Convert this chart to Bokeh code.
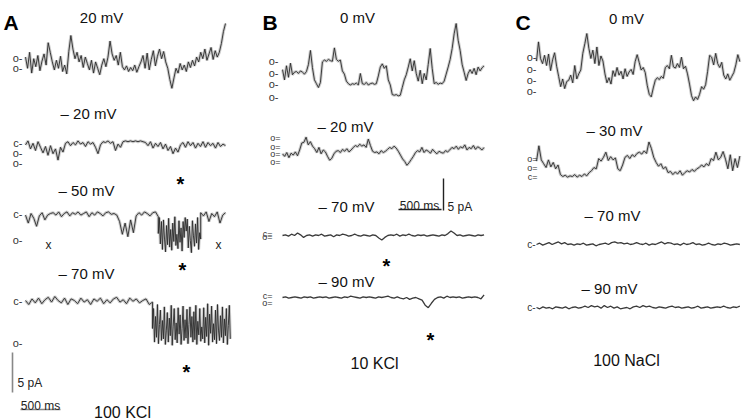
import numpy as np
from bokeh.plotting import figure
from bokeh.models import Range1d
from bokeh.core.properties import value
from bokeh.embed import file_html
from bokeh.resources import INLINE

# ---------------- data (current in pA) ----------------
a_p20 = [0.8, -0.6, 1.4, -1.2, 0.6, -0.4, 1.0, -0.9, 0.3, 1.2, -0.2, 2.6, 1.4,
         0.2, -0.8, 0.4, -0.6, 0.9, -1.0, -0.2, -1.3, 1.5, 3.5, 1.8, 0.6, 1.4, 0.2,
         1.0, -0.5, 0.8, 0.0, -0.8, 0.4, -1.2, 0.2, -0.6, -1.4, -0.2, 0.6, -0.4, 0.8,
         2.8, 1.2, 0.4, 1.0, -0.2, 1.4, -0.4, -0.8, -0.3, -1.0, -0.5, -0.9, -0.2, -1.1,
         -0.4, 0.2, 1.0, -0.6, 1.3, -0.8, 0.5, 1.6, -0.3, 0.9, 1.8, 0.6, 1.5, 0.2, -0.6,
         -2.0, -3.1, -1.8, -0.6, -1.2, 0.0, -0.8, -0.2, -1.0, 0.2, -0.5, 0.4, -0.3,
         0.8, 0.2, 1.4, 0.6, 1.8, 0.4, 1.2, 2.0, 0.5, 1.6, 0.8, 1.4, 2.5, 4.0, 5.0]
a_m20 = [-0.3, 0.2, -0.8, -0.1, -1.0, 0.1, -0.6, -1.3, -0.5, -1.6, -0.4, -1.4, -0.8,
         -2.2, -0.6, -1.2, -0.1, 0.1, -0.4, 0.0, -0.3, 0.2, -0.2, 0.0, -0.5, 0.1, -0.2,
         0.0, -0.6, -1.4, -0.3, 0.1, 0.0, 0.2, -0.1, 0.1, -1.0, -0.2, -0.6, 0.1, 0.2,
         0.1, 0.2, 0.1, 0.2, 0.1, 0.2, 0.1, 0.0, -0.4, 0.1, -0.7, -0.1, -0.5, 0.0, -0.8,
         -0.2, -1.0, -0.5, -1.4, -0.7, -1.2, -0.3, 0.0, -0.6, 0.1, -0.4, 0.0, -0.7, -0.1,
         -0.5, 0.1, -0.6, 0.0, -0.4, -0.1, -0.7, 0.0, -0.5, -0.2, -0.4]
# -50 mV: before the burst, the burst, after the burst
a_m50_pre = [-0.2, -1.2, 0.0, -0.6, -1.6, -0.3, 0.1, -0.8, -0.2, 0.0, 0.1, -0.2, 0.2,
             -0.4, 0.0, 0.2, -0.3, 0.1, -0.1, 0.2, -0.2, 0.0, 0.2, -0.4, 0.1, -0.2, 0.2,
             0.0, -0.3, 0.1, 0.2, -0.1, 0.0, -0.2, -1.0, -2.6, -1.2, -2.9, -0.8, -2.4,
             -0.3, 0.1, -0.2, 0.2, 0.0, -0.3, 0.1, 0.2, -0.4]
a_m50_burst = [-2.5, -0.5, -3.8, -1.0, -4.5, -0.8, -3.2, -4.8, -1.5, -3.9, -0.6, -4.2,
               -2.0, -4.6, -1.2, -3.5, -0.4, -4.0, -2.6, -4.4, -0.9, -3.6, -1.8, -4.7,
               -1.0, -3.0, -0.5, -2.2, -0.7, -4.3, -1.6, -3.4, -4.9, -0.9, -2.8, -4.1,
               -1.3, -3.7, -0.5, -4.5, -2.4, -3.2]
a_m50_post = [0.1, -0.3, 0.2, -1.0, 0.0, -0.4, 0.2, -1.2, -0.2, 0.1]
a_m50_times = [0, 1660, 2190, 2500]
# -70 mV: closed stretch, then flickering burst
a_m70_closed = [0.0, -0.5, 0.2, -0.3, 0.3, -0.4, 0.1, 0.4, -0.2, 0.5, 0.0, -0.3, 0.3,
                -0.5, 0.2, 0.0, -0.4, 0.3, -0.2, 0.1, -0.5, 0.2, -0.1, 0.3, -0.4, 0.1,
                -0.3, 0.2, 0.4, -0.2, 0.1, -0.4, 0.3, -0.1, 0.2, -0.3, 0.0, 0.2, -0.5,
                -0.2]
a_m70_burst = [-3.5, -1.0, -5.2, -2.0, -4.6, -0.5, -5.4, -3.0, -1.2, -5.0, -2.5, -4.8,
               -0.8, -5.5, -3.8, -1.5, -5.2, -2.2, -4.4, -0.6, -5.6, -3.2, -1.0, -4.9,
               -2.8, -5.3, -0.9, -4.2, -1.8, -5.5, -3.5, -0.7, -5.0, -2.4, -4.7, -1.1,
               -5.4, -3.0, -0.8, -4.6, -2.0, -5.2, -1.4, -4.9, -0.6, -5.5, -2.6, -4.3,
               -1.0, -5.1, -3.3, -4.8, -0.9, -5.3, -2.1, -4.5, -0.4, -5.6, -1.7, -4.1,
               -0.7, -5.2, -2.9, -4.9, -1.2, -5.4, -0.5, -3.7, -5.0, -1.9, -4.6, -0.8,
               -5.3, -2.3, -4.4, -1.0, -5.5, -3.1, -0.6, -4.8]
a_m70_times = [0, 1588, 2560]
b_0 = [4.2, 2.6, 4.8, 3.0, 5.2, 3.4, 3.8, 3.9, 3.6, 4.0, 3.8, 3.5, 3.9, 5.0, 7.2, 4.5,
       2.6, 2.0, 1.4, 2.2, 5.4, 5.7, 5.5, 5.8, 5.6, 5.5, 7.6, 5.8, 5.5, 5.7, 4.0, 3.5,
       2.4, 2.0, 1.8, 2.0, 1.9, 2.1, 1.8, 3.6, 2.0, 1.9, 2.2, 1.8, 2.0, 2.1, 1.9, 2.0,
       3.2, 4.6, 5.1, 4.4, 4.8, 2.6, 1.8, 0.3, 0.2, 0.3, 0.1, 0.2, 1.4, 2.6, 3.4, 4.6,
       5.9, 4.0, 5.6, 3.6, 2.4, 4.1, 2.0, 3.6, 2.6, 5.0, 7.5, 4.4, 2.0, 2.2, 1.9, 2.1,
       2.0, 2.4, 3.5, 4.6, 5.8, 7.5, 9.8, 11.4, 8.8, 7.2, 5.0, 3.8, 2.5, 3.6, 4.2, 3.6,
       4.4, 3.4, 4.6, 4.0, 4.5, 4.8]
b_m20 = [1.2, 0.8, 1.4, 0.6, 1.3, 1.0, 1.5, 0.9, 1.8, 2.9, 3.0, 3.8, 2.6, 3.1, 2.4, 2.0,
         1.4, 2.2, 1.2, 1.8, 1.5, 0.8, 0.2, 0.5, 1.2, 1.6, 1.7, 1.4, 1.9, 1.6, 2.0, 1.5,
         1.8, 2.2, 2.5, 2.3, 2.7, 2.4, 2.6, 2.2, 3.5, 2.5, 1.6, 1.4, 1.5, 1.2, 1.7, 1.4,
         1.6, 1.9, 2.2, 2.0, 2.4, 2.1, 1.6, 1.0, 0.4, 0.0, -0.6, -0.2, 0.3, 0.8, 1.4, 1.7,
         1.5, 2.2, 1.4, 1.8, 1.6, 1.3, 1.9, 1.5, 1.2, 1.6, 1.4, 1.3, 1.7, 1.5, 1.8, 2.2,
         2.0, 2.4, 1.9, 2.3, 2.1, 2.6, 1.8, 2.2, 2.0, 2.5, 1.9, 2.3, 2.1, 1.8, 2.2]
b_m70 = [0.0, 0.1, -0.1, 0.2, 0.0, 0.4, 0.1, -0.3, 0.0, 0.1, -0.1, 0.1, 0.0, 0.2, -0.1,
         0.0, 0.1, -0.2, 0.1, 0.0, 0.2, 0.1, -0.1, 0.0, 0.2, 0.0, -0.1, 0.1, 0.0, -0.1,
         0.1, 0.0, -0.4, -0.7, -0.3, 0.0, 0.1, 0.0, 0.2, -0.1, 0.1, 0.0, 0.2, 0.0, -0.1,
         0.1, 0.0, 0.1, -0.1, 0.0, 0.1, 0.0, -0.1, 0.1, 0.0, 0.3, 0.7, 0.4, 0.0, 0.1,
         -0.1, 0.0, 0.1, 0.0, -0.1, 0.1, 0.0, 0.1]
b_m90 = [0.0, 0.1, -0.1, 0.0, 0.1, 0.0, -0.1, 0.1, 0.0, 0.1, -0.1, 0.0, 0.1, 0.0, 0.1,
         -0.1, 0.0, 0.1, 0.0, -0.1, 0.1, 0.0, 0.2, 0.1, 0.0, -0.1, 0.1, 0.0, 0.1, 0.0,
         -0.1, 0.1, 0.0, 0.1, 0.2, 0.0, -0.1, 0.1, -0.1, -0.2, 0.0, -0.3, -0.1, 0.0, -0.2,
         -0.4, -1.2, -1.6, -0.9, -0.3, 0.0, 0.1, -0.1, 0.2, 0.0, 0.1, 0.0, 0.1, -0.1, 0.0,
         0.1, 0.0, 0.1, 0.0, -0.2, 0.4]
c_0 = [4.6, 7.6, 5.0, 4.2, 5.5, 3.9, 5.7, 3.1, 4.8, 5.9, 3.8, 2.2, 0.6, 1.8, 0.3, 1.4,
       1.6, 2.4, 1.2, 3.9, 1.8, 2.6, 3.2, 5.8, 7.3, 8.9, 6.6, 5.0, 6.3, 4.2, 6.8, 3.9,
       5.4, 4.6, 2.6, 1.2, 2.0, 1.0, 3.1, 2.2, 3.6, 2.4, 3.0, 1.8, 3.4, 2.2, 2.9, 3.3,
       2.5, 4.5, 5.6, 4.4, 3.2, 3.6, 2.8, 0.8, -0.6, -1.0, 0.4, 1.6, 2.0, 1.7, 2.2, 1.9,
       3.6, 3.9, 3.4, 5.5, 3.7, 3.5, 4.2, 3.6, 5.2, 3.4, 3.8, 2.6, 1.0, -0.8, -1.6, -1.0,
       -1.4, -0.6, 0.6, 0.2, 0.9, 3.0, 5.5, 5.2, 4.0, 5.8, 4.2, 3.6, 4.4, 2.4, 1.8, 2.6,
       1.6, 2.2, 2.8, 4.0, 5.6, 4.5]
c_m30 = [2.4, 4.8, 2.6, 2.0, 1.4, 2.6, 1.5, 2.2, 1.2, 1.8, 0.3, 0.0, 0.2, -0.1, 0.1, 0.0,
         0.3, -0.1, 0.2, 0.0, 0.4, 0.1, 0.6, 0.9, 1.4, 1.2, 2.8, 2.4, 3.0, 3.8, 2.5, 3.1,
         2.6, 2.9, 1.2, 0.9, 1.8, 3.0, 3.3, 2.8, 3.4, 3.1, 3.6, 3.8, 3.5, 4.0, 3.6, 5.4,
         4.4, 3.0, 2.2, 1.6, 2.0, 1.2, 1.5, 0.6, 0.8, 0.3, 0.7, 0.4, 0.9, 0.2, 0.6, 0.9,
         0.7, 1.1, 0.8, 1.2, 1.4, 1.8, 1.5, 2.0, 1.7, 2.8, 2.5, 3.8, 2.6, 3.0, 3.9, 2.7,
         1.2, 3.4, 0.9, 2.8, 1.4, 3.2]
c_m70 = [0.0, 0.2, -0.1, 0.1, 0.3, 0.0, 0.2, 0.4, 0.1, 0.3, 0.0, 0.1, -0.1, 0.1, 0.0,
         0.2, -0.1, 0.0, 0.1, -0.2, 0.0, 0.1, 0.2, 0.0, 0.3, 0.4, 0.2, 0.3, 0.1, 0.2, 0.0,
         0.1, 0.3, 0.1, 0.0, 0.2, -0.1, 0.1, 0.0, 0.2, 0.4, 0.1, 0.3, 0.2, 0.0, 0.1, -0.1,
         0.2, 0.0, 0.1, 0.3, 0.0, 0.1, -0.1, 0.0, 0.2, 0.0, -0.1, 0.1, 0.0, 0.2, 0.1,
         -0.1, 0.0, 0.1, 0.0]
c_m90 = [0.0, -0.2, 0.1, -0.1, 0.0, -0.2, 0.1, 0.0, -0.1, 0.1, -0.2, 0.0, 0.1, -0.1,
         0.0, 0.2, 0.0, 0.3, 0.1, 0.2, -0.1, 0.3, 0.0, 0.2, -0.1, 0.1, -0.2, -0.1, 0.0,
         -0.2, 0.1, 0.2, 0.0, 0.3, 0.1, 0.2, 0.0, -0.1, 0.1, 0.0, -0.1, 0.1, 0.2, 0.0,
         0.1, -0.1, 0.0, 0.1, -0.1, 0.0, 0.2, -0.1, 0.0, 0.1, -0.1, 0.0, 0.1, 0.0, 0.2,
         0.0, -0.1, 0.1, 0.0, 0.2]

# duration of each sweep (ms)
dur_a = 2500
dur_b = 2400
dur_c = 2450

# current levels (pA) and their labels
lev_a20, lab_a20 = [0.75, -0.5], ["o-", "o-"]
lev_a_20, lab_a_20 = [0.0, -1.25, -2.5], ["c-", "o-", "o-"]
lev_a50, lab_a50 = [0.0, -3.25], ["c-", "o-"]
lev_a70, lab_a70 = [0.0, -5.25], ["c-", "o-"]
lev_b0, lab_b0 = [5.6, 3.75, 1.9, 0.0], ["o-", "o-", "o-", "o-"]
lev_b20, lab_b20 = [3.6, 2.3, 1.25, 0.0], ["o=", "o=", "o=", "o="]
lev_b70, lab_b70 = [0.3, -0.3], ["c=", "o="]
lev_b90, lab_b90 = [0.3, -0.8], ["c=", "o="]
lev_c0, lab_c0 = [5.2, 3.4, 1.6, 0.0], ["o-", "o-", "o-", "o-"]
lev_c30, lab_c30 = [2.7, 1.4, 0.0], ["o=", "o=", "c="]
lev_c70, lab_c70 = [0.0], ["c-"]
lev_c90, lab_c90 = [0.0], ["c-"]

FONT = "Liberation Sans"
W, H = 750, 420
X0, Y0 = 0, 0  # layout coordinates equal picture pixels

p = figure(width=W, height=H, x_range=Range1d(X0, X0 + W), y_range=Range1d(Y0 + H, Y0),
           output_backend="svg", toolbar_location=None, x_axis_location=None,
           y_axis_location=None, min_border=0, outline_line_color=None,
           background_fill_color="white", border_fill_color="white")
p.grid.visible = False

# panel time axes: (left pixel of sweep start, px per ms)
panels = {"A": (25, 0.08), "B": (282, 0.084), "C": (536, 0.083)}
xr = {}
for name, (x0, k) in panels.items():
    xr[name] = Range1d((X0 - x0) / k, (X0 + W - x0) / k)
p.extra_x_ranges = xr

# sweeps as segments: (segment boundary times in ms, list of value arrays)
sweeps = {
    "a20": ([0, dur_a], [a_p20]),
    "a_20": ([0, dur_a], [a_m20]),
    "a50": (a_m50_times, [a_m50_pre, a_m50_burst, a_m50_post]),
    "a70": (a_m70_times, [a_m70_closed, a_m70_burst]),
    "b0": ([0, dur_b], [b_0]),
    "b20": ([0, dur_b], [b_m20]),
    "b70": ([0, dur_b], [b_m70]),
    "b90": ([0, dur_b], [b_m90]),
    "c0": ([0, dur_c], [c_0]),
    "c30": ([0, dur_c], [c_m30]),
    "c70": ([0, dur_c], [c_m70]),
    "c90": ([0, dur_c], [c_m90]),
}

# (panel, key, zero pixel row, px per pA, style, levels, labels, label x, label size)
traces = [
    ("A", "a20", 63, 8.0, "fuzzy", lev_a20, lab_a20, 22, 11),
    ("A", "a_20", 142, 8.0, "fuzzy", lev_a_20, lab_a_20, 22, 11),
    ("A", "a50", 213, 8.0, "fuzzy", lev_a50, lab_a50, 22, 11),
    ("A", "a70", 300, 8.0, "fuzzy", lev_a70, lab_a70, 22, 11),
    ("B", "b0", 96, 6.4, "fuzzy", lev_b0, lab_b0, 278, 11),
    ("B", "b20", 161, 6.4, "fuzzy", lev_b20, lab_b20, 280, 9),
    ("B", "b70", 235, 6.4, "thin", lev_b70, lab_b70, 272, 9),
    ("B", "b90", 297, 6.4, "thin", lev_b90, lab_b90, 272, 9),
    ("C", "c0", 90, 6.4, "fuzzy", lev_c0, lab_c0, 536, 11),
    ("C", "c30", 176, 6.4, "fuzzy", lev_c30, lab_c30, 537, 9),
    ("C", "c70", 244, 6.4, "thin", lev_c70, lab_c70, 535, 10),
    ("C", "c90", 307, 6.4, "thin", lev_c90, lab_c90, 535, 10),
]

yr = {}
for panel, key, zrow, s, style, lev, lab, lx, lfs in traces:
    yr[key] = Range1d((zrow - (Y0 + H)) / s, (zrow - Y0) / s)
p.extra_y_ranges = yr

for panel, key, zrow, s, style, lev, lab, lx, lfs in traces:
    bounds, segs = sweeps[key]
    t = np.concatenate([np.linspace(bounds[i], bounds[i + 1], len(seg))
                        for i, seg in enumerate(segs)])
    v = np.concatenate([np.asarray(seg, dtype=float) for seg in segs])
    if style == "fuzzy":
        p.line(t, v, x_range_name=panel, y_range_name=key,
               line_color="#9a9a9a", line_width=3.0, line_alpha=0.5)
        p.line(t, v, x_range_name=panel, y_range_name=key,
               line_color="#2a2a2a", line_width=0.9)
    else:
        p.line(t, v, x_range_name=panel, y_range_name=key,
               line_color="#3a3a3a", line_width=1.3)
    p.text(x=[lx] * len(lev), y=lev, text=lab, y_range_name=key,
           text_align="right", text_baseline="middle",
           text_font_size=f"{lfs}px", text_font=value(FONT), text_color="#333333")

# panel letters
p.text(x=[3, 262, 515], y=[22, 22, 22], text=["A", "B", "C"], text_align="left",
       text_baseline="alphabetic", text_font_size="21px", text_font_style="bold",
       text_font=value(FONT), text_color="black")

# voltage labels
mv_x = [101, 88, 86, 86, 357, 345, 346, 346, 626, 614, 612, 609]
mv_y = [17, 113, 190, 273, 17, 126, 206, 281, 18, 130, 215, 288]
mv_t = ["20 mV", "\u2013 20 mV", "\u2013 50 mV", "\u2013 70 mV",
        "0 mV", "\u2013 20 mV", "\u2013 70 mV", "\u2013 90 mV",
        "0 mV", "\u2013 30 mV", "\u2013 70 mV", "\u2013 90 mV"]
p.text(x=mv_x, y=mv_y, text=mv_t, text_align="center", text_baseline="alphabetic",
       text_font_size="15px", text_font=value(FONT), text_color="#111111")

# solution labels
p.text(x=[122, 374, 626], y=[412, 363, 360], text=["100 KCl", "10 KCl", "100 NaCl"],
       text_align="center", text_baseline="alphabetic", text_font_size="16px",
       text_font=value(FONT), text_color="#111111")

# asterisks and x marks
p.text(x=[180, 182, 186, 386, 430], y=[183, 269, 371, 265, 339], text=["*"] * 5,
       text_align="center", text_baseline="alphabetic", text_font_size="20px",
       text_font_style="bold", text_font=value(FONT), text_color="black")
p.text(x=[48, 218], y=[244, 244], text=["x", "x"], text_align="center",
       text_baseline="middle", text_font_size="12px", text_font=value(FONT),
       text_color="#222222")

# scale bars
p.segment(x0=[12, 20], y0=[352, 409], x1=[12, 60], y1=[392, 409],
          line_color="#888888", line_width=1.6)
p.segment(x0=[443, 398], y0=[178, 209], x1=[443, 441], y1=[210, 209],
          line_color="#222222", line_width=1.4)
p.text(x=[17, 447], y=[382, 206], text=["5 pA", "5 pA"], text_align="left",
       text_baseline="alphabetic", text_font_size="12px", text_font=value(FONT),
       text_color="#222222")
p.text(x=[40, 419], y=[405, 205], text=["500 ms", "500 ms"], text_align="center",
       text_baseline="alphabetic", text_font_size="12px", text_font=value(FONT),
       text_color="#222222")

open("out.html", "w").write(file_html(p, INLINE))
